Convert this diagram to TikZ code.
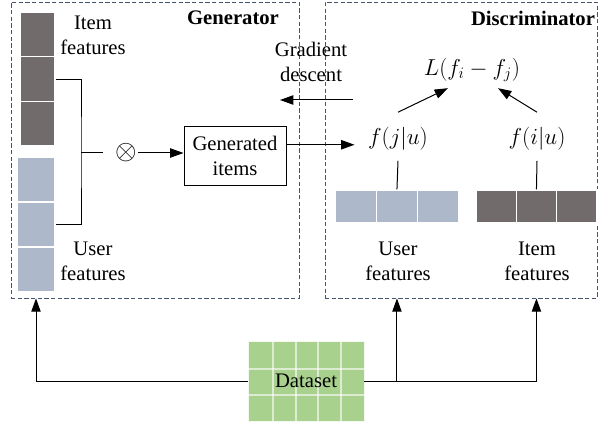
\documentclass[tikz,border=0pt]{standalone}
\usepackage{fontspec}
\setmainfont{Liberation Serif}
\usetikzlibrary{arrows.meta,calc}

\definecolor{itemgray}{HTML}{716B6B}
\definecolor{userblue}{HTML}{ADB9CA}
\definecolor{datagreen}{HTML}{A9D18E}
\definecolor{panelline}{HTML}{44546A}

\tikzset{
  arr/.style={-{Triangle[length=10pt,width=7pt]},line width=0.75pt},
  panel/.style={draw=panelline,dash pattern=on 3.2pt off 1.8pt,line width=0.6pt},
  cellbox/.style={draw=white,line width=1pt,inner sep=0pt},
  icell/.style={cellbox,fill=itemgray},
  ucell/.style={cellbox,fill=userblue},
  lbl/.style={align=center,inner sep=0pt},
  mathlbl/.style={inner sep=0pt,font=\fontsize{17}{20}\selectfont}
}

\begin{document}
\begin{tikzpicture}[x=0.75pt,y=-0.75pt,font=\fontsize{15.5}{18.75}\selectfont]
\useasboundingbox (0,0) rectangle (599,424);

\node[panel,minimum width=216pt,minimum height=222pt] (gbox) at (155,150) {};
\node[panel,minimum width=204pt,minimum height=222pt] (dbox) at (461,150) {};

\node[font=\fontsize{15.5}{18.75}\selectfont\bfseries] (gtitle) at (233,18) {Generator};
\node[font=\fontsize{15.5}{18.75}\selectfont\bfseries] (dtitle) at (533,18) {Discriminator};

% generator side
\foreach \i in {1,2,3}
  \node[icell,minimum width=26.25pt,minimum height=33.5pt] (ic\i) at (37.5,{12+44.7*(\i-0.5)}) {};
\foreach \i in {1,2,3}
  \node[ucell,minimum width=28.5pt,minimum height=33.75pt] (uc\i) at (36,{157+45*(\i-0.5)}) {};

\node[lbl] (ilabel) at (93,35) {Item\\features};
\node[lbl] (ulabel) at (93,261) {User\\features};

\coordinate (join) at (81,153);
\node[inner sep=0pt,font=\fontsize{22}{24}\selectfont] (otimes) at (126,153) {$\otimes$};
\node[draw,line width=0.75pt,minimum width=76.5pt,minimum height=43.5pt,lbl] (gen) at (235,156) {Generated\\items};

\draw[line width=0.75pt] (ic2.east) -| (join) |- (uc2.east);
\draw[line width=0.75pt,shorten >=9pt] (join) -- (otimes);
\draw[arr,shorten <=1pt] (otimes.east) -- (otimes -| gen.west);

\node[lbl] (grad) at (311,62) {Gradient\\descent};
\coordinate (gdstart) at (353,100);
\coordinate (gdend) at (280,100);
\draw[arr] (gdstart) -- (gdend);

% discriminator side
\node[mathlbl] (loss) at (472,70) {$L(f_i-f_j)$};
\node[mathlbl] (fj) at (398,139) {$f(j|u)$};
\node[mathlbl] (fi) at (537,139) {$f(i|u)$};

\draw[arr] (gen.east |- fj.base west) -- ([xshift=-10pt]fj.base west);

\foreach \i in {1,2,3}
  \node[ucell,minimum width=31pt,minimum height=24.75pt] (ub\i) at ({335+41.3*(\i-0.5)},206.5) {};
\foreach \i in {1,2,3}
  \node[icell,minimum width=30.25pt,minimum height=24.75pt] (ib\i) at ({476+40.3*(\i-0.5)},206.5) {};

\draw[line width=0.75pt] ($(fj.south)+(0,10)$) -- (ub2.north);
\draw[line width=0.75pt] ($(fi.south)+(0,10)$) -- (ib2.north);

\draw[arr] ($(fj.north)+(0,-15)$) -- ($(loss.south)+(-24,6)$);
\draw[arr] ($(fi.north)+(0,-15)$) -- ($(loss.south)+(26,6)$);

\node[lbl] (ublabel) at (398,261) {User\\features};
\node[lbl] (iblabel) at (537,261) {Item\\features};

% dataset
\node[fill=datagreen,draw=white!85!datagreen,minimum width=87pt,minimum height=60pt,inner sep=0pt] (data) at (306,381) {};
\foreach \x in {273,296,318,341}
  \draw[white,opacity=0.6,line width=0.8pt] (\x,341) -- (\x,421);
\foreach \y in {369,395}
  \draw[white,opacity=0.6,line width=0.8pt] (248,\y) -- (364,\y);
\node at (data) {Dataset};

\draw[arr] (data.west) -| (uc3 |- gbox.south);
\draw[arr] (data.east) -| (ib2 |- dbox.south);
\draw[arr] (data.east -| ub2) -- (ub2 |- dbox.south);
\end{tikzpicture}
\end{document}
